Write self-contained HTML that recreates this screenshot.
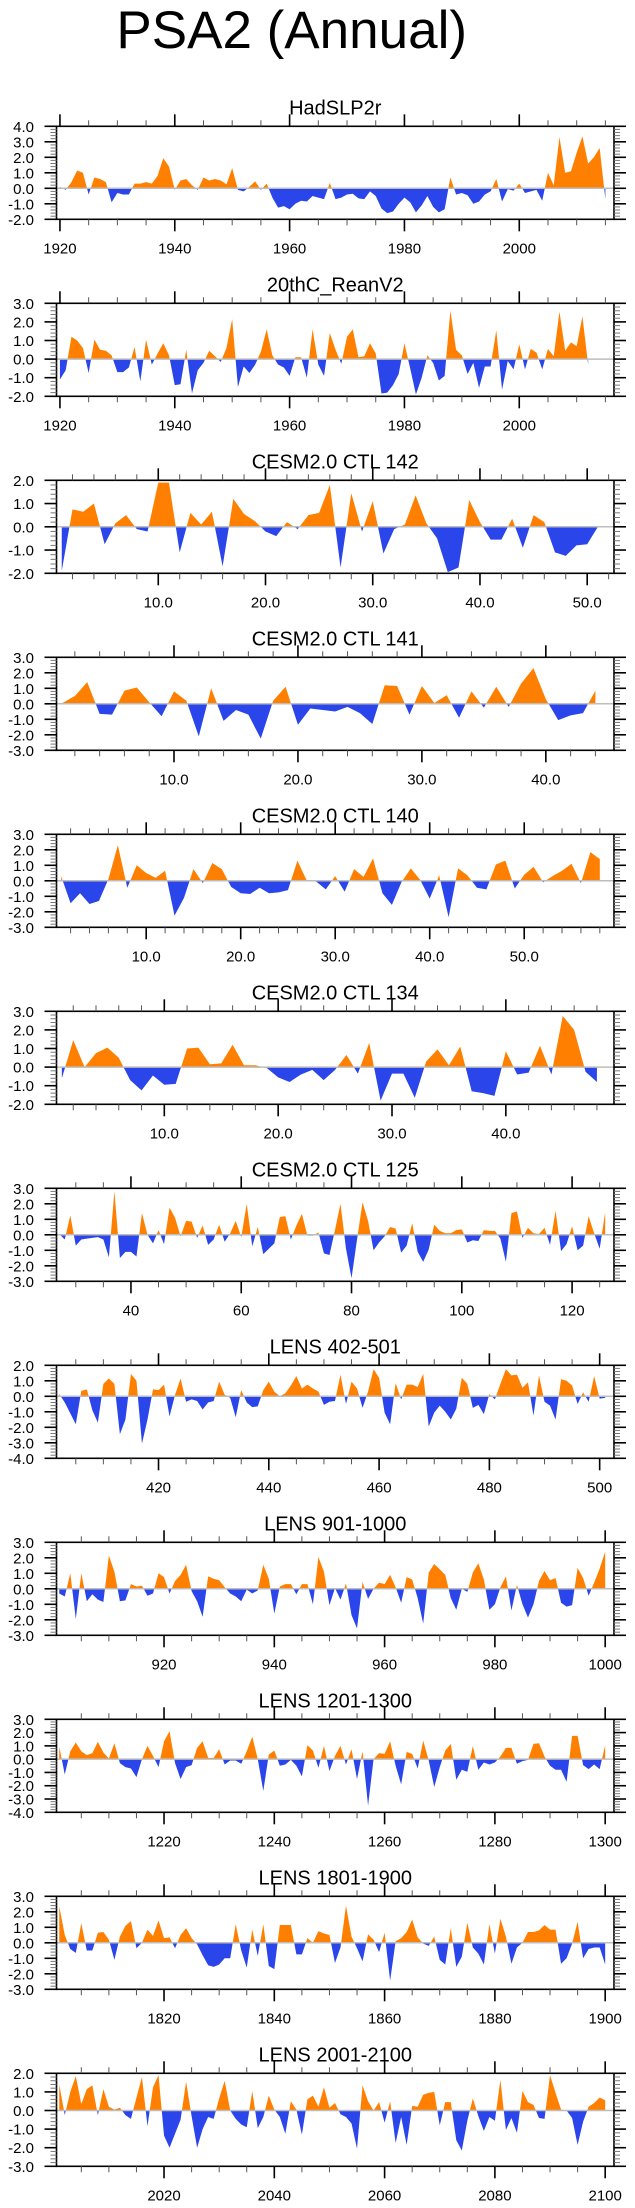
<!DOCTYPE html>
<html><head><meta charset="utf-8"><title>PSA2 (Annual)</title>
<style>
html,body{margin:0;padding:0;background:#fff;}
svg{display:block;font-family:"Liberation Sans",Arial,sans-serif;}
</style></head>
<body>
<svg id="chart" width="635" height="2208" viewBox="0 0 635 2208">
<text x="467" y="48" font-size="53" text-anchor="end" fill="#000">PSA2 (Annual)</text>
</svg>
<script>
// ---- data ----
const titles = ["HadSLP2r","20thC_ReanV2","CESM2.0 CTL 142","CESM2.0 CTL 141","CESM2.0 CTL 140","CESM2.0 CTL 134","CESM2.0 CTL 125","LENS 402-501","LENS 901-1000","LENS 1201-1300","LENS 1801-1900","LENS 2001-2100"];
const startX = [1920,1920,1,1,1,1,27,402,901,1201,1801,2001];
const xMins = [1919.4,1919.4,0.51,0.52,0.51,0.53,26.5,401.5,900.5,1200.5,1800.5,2000.5];
const xMaxs = [2016.5,2016.5,52.5,45.5,59.5,49.5,127.6,502.6,1001.6,1301.6,1901.6,2101.6];
const yMins = [-2,-2,-2,-3,-3,-2,-3,-4,-3,-4,-3,-3];
const yMaxs = [4,3,2,3,3,3,3,2,3,3,3,2];
const xMajorStep = [20,20,10,10,10,10,20,20,20,20,20,20];
const xMinorStep = [5,5,2,2,2,2,5,5,5,5,5,5];
const xLabelDecimals = [0,0,1,1,1,1,0,0,0,0,0,0];

const hadslp2r = [0.1,-0.1,0.4,1.15,1.0,-0.4,0.7,0.6,0.4,-0.9,-0.3,-0.4,-0.4,0.3,0.3,0.4,0.3,0.8,1.95,1.4,-0.1,0.5,0.6,0.2,-0.1,0.7,0.5,0.6,0.5,0.25,1.3,-0.1,-0.2,0.1,0.45,-0.1,0.3,-0.6,-1.25,-1.15,-1.35,-1.0,-0.8,-0.85,-0.5,-0.6,-0.7,0.35,-0.7,-0.6,-0.4,-0.35,-0.65,-0.7,-0.2,-0.5,-1.3,-1.6,-1.5,-1.0,-0.6,-0.9,-1.55,-1.1,-0.5,-1.2,-1.55,-1.35,0.7,-0.4,-0.3,-0.45,-1.0,-0.85,-0.4,-0.2,0.6,-0.85,-0.05,-0.15,0.3,-0.3,-0.2,-0.1,-0.8,1.0,0.2,3.3,1.0,1.1,2.3,3.35,1.6,2.0,2.6,-0.7];
const reanV2 = [-1.1,-0.6,1.2,1.0,0.6,-0.75,1.05,0.5,0.45,0.2,-0.7,-0.7,-0.45,0.65,-1.2,1.05,-0.3,0.3,0.85,0.2,-1.4,-1.35,0.5,-1.85,-0.6,-0.2,0.45,0.15,-0.15,0.6,2.15,-1.5,-0.4,-0.75,-0.3,0.4,1.6,0.2,-0.3,-0.45,-0.9,0.1,0.1,-1.0,1.6,-0.3,-0.9,1.4,0.5,-0.25,1.2,1.6,0.1,0.15,0.85,0.3,-1.85,-1.8,-1.4,-0.8,0.85,-0.5,-1.9,-1.0,0.2,-0.2,-1.15,-0.9,2.6,0.5,0.2,-0.8,-0.2,-1.55,-0.4,-0.4,1.55,-1.65,-0.1,-0.55,0.8,-0.55,0.55,0.35,-0.55,0.55,0.15,2.55,0.45,0.9,0.7,2.3,-0.3];
const ctl142 = [-1.9,0.75,0.65,1.0,-0.75,0.15,0.5,-0.1,-0.2,1.9,1.9,-1.1,0.6,0.1,0.65,-1.7,1.2,0.55,0.25,-0.2,-0.4,0.2,-0.1,0.5,0.6,1.8,-1.75,1.45,-0.2,1.1,-1.15,-0.1,0.1,1.35,0.15,-0.5,-1.95,-1.75,1.15,0.2,-0.55,-0.55,0.35,-0.9,0.5,0.2,-1.1,-1.25,-0.8,-0.75,0.0];
const ctl141 = [0.05,0.5,1.4,-0.65,-0.7,0.85,1.05,0.1,-0.8,0.8,0.2,-2.1,1.0,-1.1,-0.4,-0.7,-2.25,0.2,1.1,-1.35,-0.3,-0.4,-0.5,-0.2,-0.6,-1.3,1.2,1.15,-0.7,1.15,0.05,0.55,-0.9,0.8,-0.25,1.1,-0.2,1.3,2.3,0.3,-1.05,-0.75,-0.6,0.85];
const ctl140 = [0.3,-1.45,-0.8,-1.5,-1.3,0.1,2.3,-0.45,1.0,0.5,0.2,0.65,-2.25,-1.1,0.75,-0.15,1.15,0.75,-0.4,-0.8,-0.85,-0.45,-0.8,-0.75,-0.6,1.3,0.0,-0.05,-0.55,0.3,-0.7,0.75,0.25,1.45,-0.8,-1.55,-0.1,0.8,0.05,-1.15,0.35,-2.35,0.8,0.35,-0.45,-0.55,1.05,1.3,-0.5,0.4,0.9,-0.1,0.3,0.65,1.1,-0.15,1.85,1.4];
const ctl134 = [-0.6,1.45,0.0,0.75,1.05,0.5,-0.7,-1.25,-0.45,-0.95,-0.9,1.0,1.05,0.15,0.2,1.2,0.1,0.1,-0.05,-0.55,-0.8,-0.4,-0.15,-0.7,-0.15,0.65,-0.35,1.3,-1.8,-0.35,-0.35,-1.65,0.3,0.95,0.1,1.1,-1.3,-1.4,-1.55,0.85,-0.4,-0.3,1.15,-0.4,2.75,2.0,-0.25,-0.8];
const ctl125 = [0.05,-0.3,1.25,-0.7,-0.3,-0.25,-0.2,-0.15,-0.3,-1.45,2.8,-1.5,-1.1,-1.1,-1.4,1.4,0.0,-0.55,0.3,-0.6,1.75,1.1,-0.1,0.9,0.85,-0.2,0.6,-0.65,-0.3,0.65,-0.45,0.1,0.9,-0.15,2.0,-0.75,0.5,-1.25,-0.9,-0.55,1.15,1.2,-0.3,0.6,1.35,-0.05,-0.05,0.15,-1.2,-1.3,0.3,2.0,-0.9,-2.8,-0.3,2.1,0.9,-1.0,-0.5,-0.1,0.5,0.4,-1.15,-0.7,0.75,-1.1,-1.75,-0.95,0.65,0.25,0.1,0.1,0.3,0.35,-0.5,-0.35,-0.4,0.3,0.25,0.25,-0.25,-1.75,1.4,1.5,-0.2,0.45,0.1,0.05,0.45,-0.65,1.55,-1.05,-0.6,0.55,-1.0,-0.7,1.2,0.1,-0.9,1.45];
const lens402 = [0.15,-0.4,-1.1,-1.8,0.35,0.45,-0.9,-1.7,0.8,1.15,0.8,-2.45,-1.5,1.45,1.0,-3.05,-1.5,0.45,0.4,0.75,-1.3,0.1,1.15,-0.35,-0.2,-0.3,-0.85,-0.4,-0.3,0.95,0.1,-0.1,-1.35,0.4,-0.4,-0.7,-0.65,0.4,0.95,0.3,0.0,0.2,0.7,1.3,0.5,0.75,0.5,0.3,-0.55,-0.35,-0.3,1.4,-0.5,0.95,0.5,-0.75,0.3,1.75,1.2,-1.05,-1.8,0.85,-0.2,0.75,0.75,0.6,1.45,-1.95,-1.05,-0.6,-1.0,-1.5,-0.8,1.2,0.8,-0.75,-0.55,-1.15,0.15,-0.2,0.8,1.75,1.35,1.4,0.55,0.9,-1.25,1.35,-0.35,-0.6,-1.5,1.1,1.0,0.7,-0.5,0.25,-0.35,1.3,-0.15,-0.1];
const lens901 = [-0.3,-0.5,1.0,-1.95,1.0,-0.8,-0.35,-0.7,-0.85,2.15,1.1,-0.8,-0.75,0.3,0.15,0.2,-0.45,-0.3,1.0,0.75,-0.3,0.5,0.9,1.55,-0.15,-0.8,-1.8,0.8,0.65,0.55,0.1,-0.3,-0.5,-0.8,-0.05,-0.3,-0.1,1.55,0.65,-1.6,0.15,0.3,0.3,-0.35,0.3,0.3,-1.0,2.05,1.1,-1.05,0.05,-0.7,0.35,-1.7,-2.55,0.45,-0.65,0.0,0.4,0.3,0.9,0.1,-0.9,0.75,0.6,-0.6,-2.25,1.05,1.6,1.25,0.9,-0.6,-1.35,0.0,-0.2,1.05,1.65,0.6,-1.35,-1.0,0.1,0.8,-1.4,0.25,-1.0,-1.85,-1.0,0.5,1.15,0.55,0.7,-0.9,-1.15,-1.05,1.35,0.7,-0.45,0.4,1.3,2.4];
const lens1201 = [0.95,-1.15,0.6,1.25,0.6,0.3,0.45,1.3,0.5,0.05,1.2,-0.3,-0.6,-0.7,-1.35,0.0,1.0,0.25,-0.6,1.35,2.1,-0.3,-1.5,-0.6,-0.45,0.85,1.35,0.1,0.1,0.75,-0.4,-0.1,-0.1,-0.35,0.6,1.7,0.0,-2.4,0.35,0.65,-0.5,-0.4,-0.05,-0.5,-1.3,1.05,0.65,-0.65,1.0,-0.9,0.25,1.0,-0.4,0.75,-1.5,0.6,-3.5,0.0,0.45,0.4,1.35,-0.5,-1.9,0.55,0.4,-0.7,1.4,-0.1,-2.1,-0.6,0.65,1.15,-1.55,-0.8,-0.95,1.0,-0.8,-0.25,-0.4,-0.25,0.2,0.85,0.85,-0.35,-0.15,-0.05,1.15,1.2,0.2,-0.5,-0.8,-0.8,-1.7,1.75,1.75,-0.45,-0.75,-0.4,-0.75,1.05];
const lens1801 = [2.35,0.5,-0.4,-0.65,1.25,-0.5,-0.5,0.65,0.7,0.2,-1.1,0.4,1.1,1.4,-0.35,0.0,0.85,0.45,1.45,0.3,0.35,-0.35,0.5,0.95,0.3,-0.1,-0.8,-1.45,-1.55,-1.4,-1.0,-1.0,1.2,-0.5,-1.6,0.85,-0.85,1.2,-1.5,-1.7,1.15,1.15,1.15,-0.75,-0.75,0.3,0.0,0.75,0.6,0.5,-1.3,-0.3,2.4,0.4,-0.35,-1.2,0.55,0.2,-0.6,0.65,-2.45,0.1,0.3,0.7,1.5,0.35,-0.05,-0.2,0.4,-1.1,-1.4,0.95,-1.55,-0.9,1.3,-0.3,-0.7,-1.4,1.2,-0.7,1.55,0.4,-1.35,-0.3,0.0,0.7,0.7,0.8,1.15,0.85,0.85,-1.35,-1.0,-0.05,1.35,-1.0,-0.4,-0.3,-0.3,-1.4];
const lens2001 = [1.4,-0.25,1.0,1.85,0.35,1.15,1.35,-0.25,1.15,0.2,0.05,0.15,-0.25,-0.45,0.7,1.8,-0.85,1.25,1.9,-1.35,-2.0,-1.25,-0.5,1.55,-0.3,-2.0,-1.0,-0.35,-0.45,0.65,1.6,0.0,-0.45,-0.75,-0.9,1.05,-0.95,-0.35,0.8,0.05,-0.35,-1.25,0.5,0.05,-1.3,0.6,0.8,0.2,1.25,0.15,0.4,-0.2,-0.35,-0.7,-2.05,1.35,0.5,0.0,0.45,-0.65,0.5,-1.75,-0.35,-1.85,0.25,0.2,0.85,0.95,1.0,-0.8,0.45,0.45,-1.6,-2.15,-0.55,0.65,-0.3,-1.1,-0.35,-0.55,1.65,-1.05,-0.4,-1.2,1.05,0.45,0.3,-0.4,-0.45,1.9,0.95,0.05,0.0,-0.4,-1.85,-0.6,0.2,0.4,0.7,0.55];
const seriesList = [hadslp2r,reanV2,ctl142,ctl141,ctl140,ctl134,ctl125,lens402,lens901,lens1201,lens1801,lens2001];

// ---- layout ----
const NS = "http://www.w3.org/2000/svg";
const svg = document.getElementById("chart");
const BOX_L = 56.5, BOX_R = 614, BOX_H = 93, TOP0 = 126.3, STEP = 177.0;
const ORANGE = "#ff8000", BLUE = "#2a45ea";

function mk(parent, tag, attrs){
  const el = document.createElementNS(NS, tag);
  for (const k in attrs) el.setAttribute(k, attrs[k]);
  parent.appendChild(el);
  return el;
}
function fmt(v, d){ return v.toFixed(d); }

for (let p = 0; p < titles.length; p++){
  const top = TOP0 + STEP * p, bot = top + BOX_H;
  const x0 = xMins[p], x1 = xMaxs[p], y0 = yMins[p], y1 = yMaxs[p];
  const sx = v => BOX_L + (v - x0) / (x1 - x0) * (BOX_R - BOX_L);
  const sy = v => bot - (v - y0) / (y1 - y0) * BOX_H;
  const g = mk(svg, "g", {});
  
  

  const t = mk(g, "text", {x: (BOX_L + BOX_R) / 2, y: top - 12, "font-size": 20, "text-anchor": "middle", fill: "#000"});
  t.textContent = titles[p];
  
  

  const cid = "c" + p;
  const cpA = mk(g, "clipPath", {id: cid + "a"});
  mk(cpA, "rect", {x: BOX_L, y: top, width: BOX_R - BOX_L, height: sy(0) - top});
  const cpB = mk(g, "clipPath", {id: cid + "b"});
  mk(cpB, "rect", {x: BOX_L, y: sy(0), width: BOX_R - BOX_L, height: bot - sy(0)});

  const vals = seriesList[p];
  let d = "M" + sx(startX[p]).toFixed(2) + "," + sy(0).toFixed(2);
  for (let i = 0; i < vals.length; i++){
    d += " L" + sx(startX[p] + i).toFixed(2) + "," + sy(vals[i]).toFixed(2);
  }
  d += " L" + sx(startX[p] + vals.length - 1).toFixed(2) + "," + sy(0).toFixed(2) + " Z";
  const pos = mk(g, "path", {d: d, fill: ORANGE, "clip-path": "url(#" + cid + "a)"});
  
  
  const neg = mk(g, "path", {d: d, fill: BLUE, "clip-path": "url(#" + cid + "b)"});
  
  

  const zl = mk(g, "line", {x1: BOX_L, x2: BOX_R, y1: sy(0), y2: sy(0), stroke: "#bdbdbd", "stroke-width": 1.5});
  
  

  const box = mk(g, "rect", {x: BOX_L, y: top, width: BOX_R - BOX_L, height: BOX_H, fill: "none", stroke: "#000", "stroke-width": 1.6});
  
  

  const ms = xMinorStep[p];
  for (let v = Math.ceil(x0 / ms) * ms; v <= x1; v += ms){
    const major = Math.abs(v / xMajorStep[p] - Math.round(v / xMajorStep[p])) < 1e-6;
    const L = major ? 12 : 6, X = sx(v);
    mk(g, "line", {x1: X, x2: X, y1: bot, y2: bot + L, stroke: major ? "#000" : "#555", "stroke-width": major ? 1.6 : 1});
    mk(g, "line", {x1: X, x2: X, y1: top, y2: top - L, stroke: major ? "#000" : "#555", "stroke-width": major ? 1.6 : 1});
    if (major){
      const lb = mk(g, "text", {x: X, y: bot + 34, "font-size": 15, "text-anchor": "middle", fill: "#000"});
      lb.textContent = fmt(v, xLabelDecimals[p]);
      
      
    }
  }
  for (let k = Math.round(y0 * 5); k <= Math.round(y1 * 5); k++){
    const v = k / 5, Y = sy(v), major = k % 5 === 0;
    const L = major ? 12 : 6;
    mk(g, "line", {x1: BOX_L, x2: BOX_L - L, y1: Y, y2: Y, stroke: major ? "#000" : "#777", "stroke-width": major ? 1.6 : 1});
    mk(g, "line", {x1: BOX_R, x2: BOX_R + L, y1: Y, y2: Y, stroke: major ? "#000" : "#777", "stroke-width": major ? 1.6 : 1});
    if (major){
      const lb = mk(g, "text", {x: 34, y: Y + 5.5, "font-size": 15, "text-anchor": "end", fill: "#000"});
      lb.textContent = fmt(v, 1);
      
      
    }
  }
}
</script>
</body></html>
